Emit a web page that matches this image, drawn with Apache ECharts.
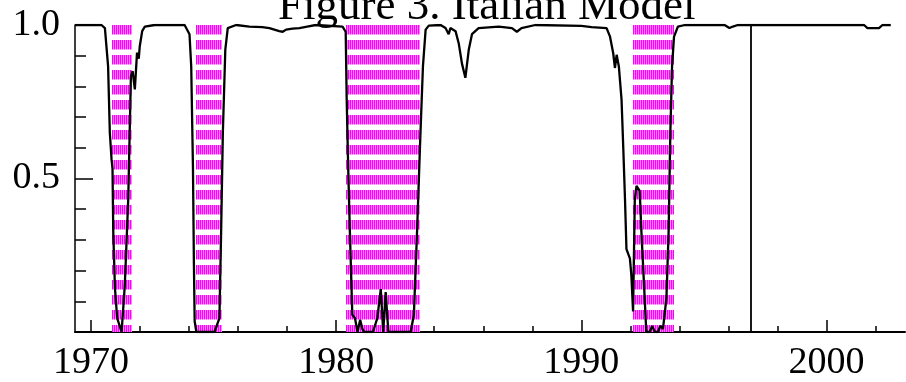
<!DOCTYPE html>
<html>
<head>
<meta charset="utf-8">
<style>
html,body{margin:0;padding:0;background:#fff;}
#c{width:906px;height:382px;}
</style>
<script src="https://cdn.jsdelivr.net/npm/echarts@6/dist/echarts.min.js"></script>
</head>
<body>
<div id="c"></div>
<script>
// Data
var years = [1969.35,1970.43,1970.57,1970.70,1970.77,1970.84,1970.88,1970.91,1970.98,1971.07,1971.25,1971.38,1971.52,1971.63,1971.70,1971.79,1971.88,1971.95,1971.99,1972.09,1972.20,1972.60,
1973.82,1974.02,1974.09,1974.16,1974.20,1974.23,1974.30,1975.04,1975.24,1975.31,1975.38,1975.48,1975.58,1975.92,1976.46,1976.99,1977.28,1977.68,1977.82,1977.96,1978.22,1978.50,1978.82,1979.17,
1980.26,1980.39,1980.43,1980.49,1980.56,1980.66,1980.77,1980.87,1980.98,1981.07,1981.14,1981.50,1981.68,1981.82,1981.92,1982.02,1982.13,1983.04,1983.17,1983.30,1983.44,1983.54,1983.65,1983.78,
1984.26,1984.46,1984.59,1984.66,1984.87,1985.00,1985.13,1985.27,1985.41,1985.54,1985.81,1986.63,1987.17,1987.37,1987.56,1988.12,1990.00,1990.42,1991.03,1991.17,1991.30,1991.37,1991.44,1991.53,
1991.64,1991.71,1991.78,1991.84,1991.98,1992.04,1992.11,1992.18,1992.25,1992.32,1992.38,1992.45,1992.55,1992.65,1992.79,1992.89,1993.00,1993.13,1993.22,1993.33,1993.47,1993.56,1993.63,1993.70,
1993.78,1993.94,1994.22,1995.84,1996.04,1996.18,1996.38,2001.53,2001.67,2002.14,2002.28,2002.62];
var probs = [1.0,1.0,0.99,0.865,0.65,0.563,0.531,0.327,0.142,0.045,0.0,0.15,0.43,0.833,0.85,0.79,0.91,0.89,0.93,0.98,0.995,1.0,
1.0,0.97,0.865,0.54,0.22,0.035,0.0,0.0,0.045,0.33,0.65,0.92,0.99,1.0,0.995,0.993,0.99,0.98,0.978,0.985,0.988,0.99,0.995,1.0,
0.995,0.978,0.76,0.54,0.327,0.056,0.045,0.0,0.04,0.01,0.0,0.0,0.045,0.14,0.0,0.13,0.0,0.0,0.056,0.327,0.65,0.865,0.985,0.998,
1.0,0.99,0.97,0.99,0.98,0.94,0.875,0.828,0.92,0.97,0.99,0.995,0.99,0.978,0.99,1.0,0.997,0.993,0.99,0.962,0.908,0.86,0.903,0.865,
0.757,0.60,0.434,0.27,0.24,0.185,0.067,0.43,0.476,0.482,0.46,0.327,0.165,0.0,0.0,0.02,0.0,0.0,0.02,0.01,0.11,0.327,0.65,0.865,
0.962,0.995,1.0,1.0,0.99,0.995,1.0,1.0,0.99,0.99,1.0,1.0];
// Recession periods (start, end) shaded in magenta
var recStart = [1970.84, 1974.30, 1980.39, 1992.11];
var recEnd   = [1971.65, 1975.32, 1983.37, 1993.74];
var breakYear = 1996.9;
var xMajorTicks = [1970, 1980, 1990, 2000];
var xMinorTicks = [1972,1974,1976,1978,1982,1984,1986,1988,1992,1994,1996,1998,2002];
var yLabels = [0.5, 1.0];
var yMinorTicks = [0.1,0.2,0.3,0.4,0.6,0.7,0.8,0.9,1.0];
var titleText = 'Figure 3. Italian Model';

var FONT = '"Liberation Serif","Times New Roman",serif';
var lineData = years.map(function(y,i){return [y, probs[i]];});
var bandData = recStart.map(function(s,i){return [s, recEnd[i]];});

function renderBand(params, api){
  var s = api.value(0), e = api.value(1);
  var top = Math.round(api.coord([s,1])[1]), bot = Math.round(api.coord([s,0])[1]);
  var x0 = Math.round(api.coord([s,0])[0]), x1 = Math.round(api.coord([e,0])[0]);
  var children = [];
  for (var x=x0; x<=x1; x++){
    var bright = ((x - x0) % 2 === 0);
    children.push({type:'line',shape:{x1:x+0.5,y1:top,x2:x+0.5,y2:bot},
      style:{stroke: bright ? '#ff00ff' : '#ff80ff',lineWidth:1,lineDash:[9.5,5.5]}});
  }
  return {type:'group',children:children};
}

var chart = echarts.init(document.getElementById('c'), null, {renderer:'canvas'});
chart.setOption({
  animation:false,
  backgroundColor:'#fff',
  title:{text:titleText,left:273,top:-20,textStyle:{fontFamily:FONT,fontSize:45,fontWeight:'normal',color:'#000'}},
  grid:{left:75,right:1,top:25,bottom:48,containLabel:false},
  xAxis:[{
    type:'value',min:1969.35,max:2003.2,
    axisLine:{show:true,lineStyle:{color:'#000',width:2}},
    axisTick:{show:true,inside:true,length:12,customValues:xMajorTicks,lineStyle:{color:'#000',width:1.5}},
    axisLabel:{show:true,customValues:xMajorTicks,margin:12,fontFamily:FONT,fontSize:38,color:'#000',
      formatter:function(v){return String(Math.round(v));}},
    splitLine:{show:false}
  },{
    type:'value',min:1969.35,max:2003.2,position:'bottom',
    axisLine:{show:false},
    axisTick:{show:true,inside:true,length:6,customValues:xMinorTicks,lineStyle:{color:'#000',width:1.5}},
    axisLabel:{show:false},splitLine:{show:false}
  }],
  yAxis:[{
    type:'value',min:0,max:1,
    axisLine:{show:true,lineStyle:{color:'#000',width:1.5}},
    axisTick:{show:true,inside:true,length:18,customValues:[0.5],lineStyle:{color:'#000',width:1.5}},
    axisLabel:{show:true,customValues:yLabels,margin:15,fontFamily:FONT,fontSize:38,color:'#000',
      formatter:function(v){return Number(v).toFixed(1);}},
    splitLine:{show:false}
  },{
    type:'value',min:0,max:1,position:'left',
    axisLine:{show:false},
    axisTick:{show:true,inside:true,length:11,customValues:yMinorTicks,lineStyle:{color:'#000',width:1.5}},
    axisLabel:{show:false},splitLine:{show:false}
  }],
  series:[{
    type:'custom',xAxisIndex:0,yAxisIndex:0,data:bandData,silent:true,
    encode:{x:[0,1]},renderItem:renderBand,z:1
  },{
    type:'line',xAxisIndex:0,yAxisIndex:0,data:lineData,symbol:'none',z:3,
    lineStyle:{color:'#000',width:2.3},
    markLine:{silent:true,symbol:['none','none'],label:{show:false},animation:false,
      lineStyle:{color:'#000',width:1.8,type:'solid'},
      data:[[{coord:[breakYear,1]},{coord:[breakYear,0]}]]}
  }]
});
</script>
</body>
</html>
